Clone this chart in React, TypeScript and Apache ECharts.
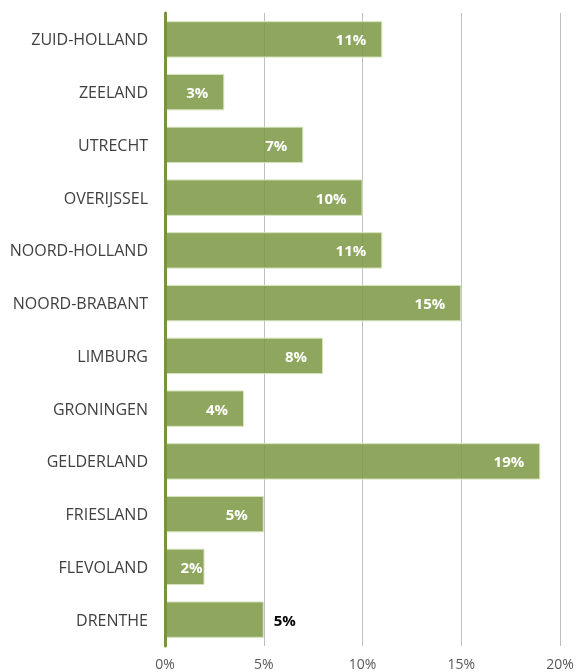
import React, { useEffect, useRef } from "react";
import * as echarts from "echarts";

const categories = [
  "DRENTHE",
  "FLEVOLAND",
  "FRIESLAND",
  "GELDERLAND",
  "GRONINGEN",
  "LIMBURG",
  "NOORD-BRABANT",
  "NOORD-HOLLAND",
  "OVERIJSSEL",
  "UTRECHT",
  "ZEELAND",
  "ZUID-HOLLAND",
];
const values = [5, 2, 5, 19, 4, 8, 15, 11, 10, 7, 3, 11];
const xTicks = [0, 5, 10, 15, 20];

export default function App() {
  const ref = useRef<HTMLDivElement>(null);
  useEffect(() => {
    if (!ref.current) return;
    const chart = echarts.init(ref.current, undefined, { renderer: "svg" });
    const font = "'Open Sans', sans-serif";
    chart.setOption({
      animation: false,
      grid: { left: 165, right: 17, top: 13, bottom: 26, containLabel: false },
      xAxis: {
        type: "value",
        min: xTicks[0],
        max: xTicks[xTicks.length - 1],
        interval: 5,
        axisLine: { show: false },
        axisTick: { show: false },
        splitLine: { show: true, lineStyle: { color: "#bfbfbf", width: 1 } },
        axisLabel: {
          formatter: (v: number) => v + "%",
          color: "#595959",
          fontSize: 14,
          fontFamily: font,
          margin: 10,
        },
      },
      yAxis: {
        type: "category",
        data: categories,
        z: 5,
        axisLine: { show: true, lineStyle: { color: "#77933c", width: 3 } },
        axisTick: { show: false },
        axisLabel: {
          color: "#404040",
          fontSize: 16,
          fontFamily: font,
          margin: 17,
        },
      },
      series: [
        {
          type: "bar",
          barCategoryGap: "31%",
          data: values.map((v, i) => {
            const name = categories[i];
            let label: any = undefined;
            if (name === "DRENTHE") {
              label = { position: "right", color: "#000000", distance: 10 };
            } else if (name === "FLEVOLAND") {
              label = { distance: 2 };
            }
            return { value: v, label };
          }),
          itemStyle: {
            color: "rgba(122,150,66,0.85)",
            borderColor: "#d6e3bc",
            borderWidth: 1,
          },
          label: {
            show: true,
            position: "insideRight",
            distance: 16,
            formatter: (p: any) => p.value + "%",
            color: "#ffffff",
            fontWeight: "bold",
            fontSize: 15,
            fontFamily: font,
          },
        },
      ],
    });
    return () => chart.dispose();
  }, []);
  return (
    <div
      ref={ref}
      style={{ position: "fixed", left: 0, top: 0, width: 577, height: 672 }}
    />
  );
}
